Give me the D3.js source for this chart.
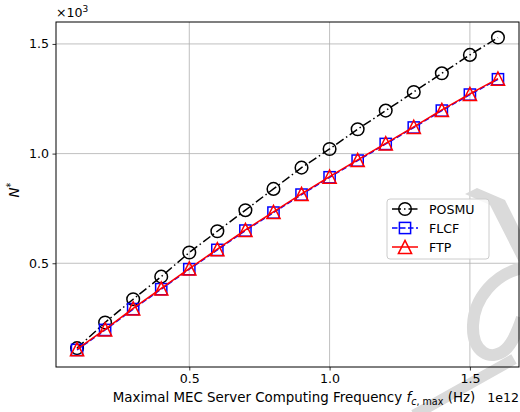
<!DOCTYPE html>
<html>
<head>
<meta charset="utf-8">
<script src="https://cdn.jsdelivr.net/npm/d3@7"></script>
<style>
  html, body { margin: 0; padding: 0; background: #fff; }
  svg { display: block; font-family: "DejaVu Sans", sans-serif; }
</style>
</head>
<body>
<svg id="chart" width="520" height="412"></svg>
<script>
// Maximal MEC server computing frequency (Hz)
const frequencies = [1e11, 2e11, 3e11, 4e11, 5e11, 6e11, 7e11, 8e11, 9e11, 1e12,
                     1.1e12, 1.2e12, 1.3e12, 1.4e12, 1.5e12, 1.6e12];
// Number of served users N* per scheme
const posmu = [113, 230, 336, 439, 549, 646, 742, 839, 936, 1021, 1111, 1196, 1281, 1366, 1450, 1529];
const flcf  = [105, 196, 291, 382, 473, 561, 649, 731, 813, 892, 968, 1044, 1119, 1196, 1269, 1339];
const ftp   = [108, 199, 294, 385, 476, 564, 652, 734, 816, 895, 971, 1047, 1122, 1199, 1272, 1342];
const seriesNames = ["POSMU", "FLCF", "FTP"];
const xTicks = [0.5e12, 1.0e12, 1.5e12];
const yTicks = [500, 1000, 1500];

const FS = 12.6;
const svg = d3.select("#chart");
const plotLeft = 56, plotRight = 519, plotTop = 22, plotBottom = 367;

const x = d3.scaleLinear().domain([0.025e12, 1.675e12]).range([plotLeft, plotRight]);
const y = d3.scaleLinear().domain([27, 1600]).range([plotBottom, plotTop]);

// grid
const grid = svg.append("g").attr("stroke", "#b0b0b0").attr("stroke-width", 0.8);
xTicks.forEach(t => grid.append("line").attr("x1", x(t)).attr("x2", x(t)).attr("y1", plotTop).attr("y2", plotBottom));
yTicks.forEach(t => grid.append("line").attr("x1", plotLeft).attr("x2", plotRight).attr("y1", y(t)).attr("y2", y(t)));

// background watermark strokes
const wm = svg.append("g").attr("fill", "#dadada").attr("stroke", "none");
wm.append("path").attr("d", "M465,194 L477,188 L505,200 L521,232 L521,266 L490,205 Z");
wm.append("path").attr("d", "M522,268 C495,274 474,298 473,325 C472,352 490,362 505,350 C513,343 518,330 522,318")
  .attr("fill", "none").attr("stroke", "#dadada").attr("stroke-width", 12);
wm.append("path").attr("d", "M414,415 L514,359").attr("fill", "none").attr("stroke", "#dadada").attr("stroke-width", 11);

// axes
const xAxis = d3.axisBottom(x).tickValues(xTicks).tickSize(3.5).tickPadding(3.5)
  .tickFormat(d => d3.format(".1f")(d / 1e12));
const yAxis = d3.axisLeft(y).tickValues(yTicks).tickSize(3.5).tickPadding(3.5)
  .tickFormat(d => d3.format(".1f")(d / 1000));

const gx = svg.append("g").attr("transform", `translate(0,${plotBottom})`).call(xAxis);
const gy = svg.append("g").attr("transform", `translate(${plotLeft},0)`).call(yAxis);
[gx, gy].forEach(g => {
  g.select(".domain").remove();
  g.selectAll(".tick line").attr("stroke", "#000").attr("stroke-width", 0.8);
  g.selectAll(".tick text").attr("fill", "#000").attr("font-size", FS)
    .attr("font-family", "DejaVu Sans, sans-serif");
});

// frame
svg.append("rect").attr("x", plotLeft).attr("y", plotTop).attr("width", plotRight - plotLeft).attr("height", plotBottom - plotTop)
  .attr("fill", "none").attr("stroke", "#000").attr("stroke-width", 1);

// series
const line = d3.line().x((d, i) => x(frequencies[i])).y(d => y(d));
const styles = [
  { data: posmu, color: "#000000", dash: "9,3,1.5,3", marker: "circle" },
  { data: flcf,  color: "#0000ff", dash: "5.5,2.5", marker: "square" },
  { data: ftp,   color: "#ff0000", dash: null, marker: "triangle" }
];

function drawMarker(g, type, cx, cy, color) {
  if (type === "circle") {
    g.append("circle").attr("cx", cx).attr("cy", cy).attr("r", 6.3)
      .attr("fill", "none").attr("stroke", color).attr("stroke-width", 1.5);
  } else if (type === "square") {
    g.append("rect").attr("x", cx - 5.6).attr("y", cy - 5.6).attr("width", 11.2).attr("height", 11.2)
      .attr("fill", "none").attr("stroke", color).attr("stroke-width", 1.5);
  } else {
    const s = 6.6;
    g.append("path").attr("d", `M${cx},${cy - s} L${cx + s},${cy + s} L${cx - s},${cy + s} Z`)
      .attr("fill", "none").attr("stroke", color).attr("stroke-width", 1.5).attr("stroke-linejoin", "miter");
  }
}

styles.forEach(s => {
  const g = svg.append("g");
  g.append("path").attr("d", line(s.data)).attr("fill", "none").attr("stroke", s.color)
    .attr("stroke-width", 1.5).attr("stroke-dasharray", s.dash);
  s.data.forEach((v, i) => drawMarker(g, s.marker, x(frequencies[i]), y(v), s.color));
});

// legend
const leg = svg.append("g");
leg.append("rect").attr("x", 387).attr("y", 199).attr("width", 102).attr("height", 60).attr("rx", 3)
  .attr("fill", "#fff").attr("fill-opacity", 0.8).attr("stroke", "#cccccc").attr("stroke-width", 1);
seriesNames.forEach((name, i) => {
  const yy = 209 + i * 19;
  const s = styles[i];
  leg.append("line").attr("x1", 392).attr("x2", 418).attr("y1", yy).attr("y2", yy)
    .attr("stroke", s.color).attr("stroke-width", 1.5).attr("stroke-dasharray", s.dash);
  drawMarker(leg, s.marker, 405, yy, s.color);
  leg.append("text").attr("x", 429).attr("y", yy).attr("dy", "0.36em").attr("font-size", FS)
    .text(name);
});

// axis labels
const xl = svg.append("text").attr("x", 294).attr("y", 402).attr("text-anchor", "middle").attr("font-size", 13.4);
xl.append("tspan").text("Maximal MEC Server Computing Frequency ");
xl.append("tspan").attr("font-style", "italic").text("f");
xl.append("tspan").attr("font-size", 9.6).attr("dy", 3).attr("font-style", "italic").text("c");
xl.append("tspan").attr("font-size", 9.6).text(", max");
xl.append("tspan").attr("dy", -3).text(" (Hz)");

svg.append("text").attr("x", 519).attr("y", 402).attr("text-anchor", "end").attr("font-size", FS).text("1e12");

const yl = svg.append("text").attr("transform", "translate(19,190) rotate(-90)").attr("text-anchor", "middle")
  .attr("font-size", 13.4);
yl.append("tspan").attr("font-style", "italic").text("N");
yl.append("tspan").attr("font-size", 9.6).attr("dy", -5).text("*");

const ex = svg.append("text").attr("x", 56).attr("y", 17).attr("font-size", FS);
ex.append("tspan").text("×10");
ex.append("tspan").attr("font-size", 9).attr("dy", -5).text("3");
</script>
</body>
</html>
